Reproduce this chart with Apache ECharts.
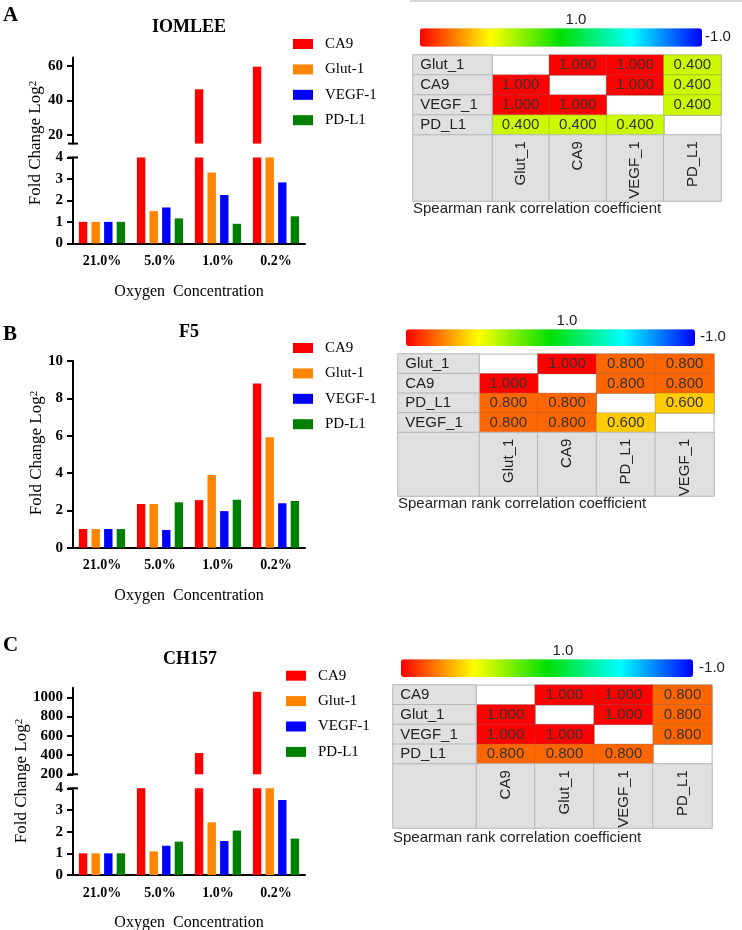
<!DOCTYPE html>
<html><head><meta charset="utf-8">
<script src="https://cdn.jsdelivr.net/npm/echarts@6/dist/echarts.min.js"></script>
<style>html,body{margin:0;padding:0;background:#fff}#c{width:742px;height:930px}</style>
</head><body><div id="c"></div>
<script>
// ---------- data ----------
const categories = ['21.0%', '5.0%', '1.0%', '0.2%'];
const genes = ['CA9', 'Glut-1', 'VEGF-1', 'PD-L1'];
const geneColors = ['#ff0000', '#ff8400', '#0000ff', '#008000'];

// Panel A : IOMLEE
const iomleeCA9   = [1, 10, 46.5, 59.6];
const iomleeGlut1 = [1, 1.5, 3.3, 6];
const iomleeVEGF1 = [1, 1.67, 2.25, 2.84];
const iomleePDL1  = [1, 1.16, 0.91, 1.26];
// Panel B : F5
const f5CA9   = [1, 2.34, 2.55, 8.8];
const f5Glut1 = [1, 2.34, 3.89, 5.91];
const f5VEGF1 = [1, 0.95, 1.96, 2.38];
const f5PDL1  = [1, 2.43, 2.57, 2.5];
// Panel C : CH157
const ch157CA9   = [1, 50, 421, 1058];
const ch157Glut1 = [1, 1.09, 2.43, 10];
const ch157VEGF1 = [1, 1.35, 1.57, 3.46];
const ch157PDL1  = [1, 1.54, 2.05, 1.68];

const ticksAUpper = [20, 40, 60];
const ticksCUpper = [200, 400, 600, 800, 1000];

// Spearman correlation tables
const heatAGenes = ['Glut_1', 'CA9', 'VEGF_1', 'PD_L1'];
const heatAValues = [[null, 1, 1, 0.4], [1, null, 1, 0.4], [1, 1, null, 0.4], [0.4, 0.4, 0.4, null]];
const heatBGenes = ['Glut_1', 'CA9', 'PD_L1', 'VEGF_1'];
const heatBValues = [[null, 1, 0.8, 0.8], [1, null, 0.8, 0.8], [0.8, 0.8, null, 0.6], [0.8, 0.8, 0.6, null]];
const heatCGenes = ['CA9', 'Glut_1', 'VEGF_1', 'PD_L1'];
const heatCValues = [[null, 1, 1, 0.8], [1, null, 1, 0.8], [1, 1, null, 0.8], [0.8, 0.8, 0.8, null]];

// ---------- build ----------
const serif = "'Liberation Serif','Times New Roman',serif";
const sans = "'Liberation Sans',Arial,sans-serif";
const grids = [], xAxes = [], yAxes = [], series = [], visualMaps = [], legends = [], titles = [], graphics = [];
const grayIdx = [];

function barPanel(p) {
  p.segments.forEach(seg => {
    const gi = grids.length;
    grids.push({left: p.left, top: seg.top, width: p.width, height: seg.height, outerBoundsMode: 'none'});
    const xi = xAxes.length;
    xAxes.push({
      type: 'category', gridIndex: gi, data: categories, show: !!seg.showX,
      axisLine: {lineStyle: {color: '#000', width: 2}},
      axisTick: {alignWithLabel: true, length: 6, lineStyle: {color: '#000', width: 2}},
      axisLabel: {color: '#000', fontFamily: serif, fontWeight: 'bold', fontSize: 14, margin: 11},
      name: seg.showX ? 'Oxygen  Concentration' : '', nameLocation: 'middle', nameGap: 40,
      nameTextStyle: {fontFamily: serif, fontSize: 16, color: '#000'}
    });
    const yi = yAxes.length;
    const ya = {
      type: 'value', gridIndex: gi, min: seg.min, max: seg.max,
      axisLine: {show: true, lineStyle: {color: '#000', width: 2}, symbol: seg.symbol || 'none', symbolSize: [10, 2]},
      axisTick: {show: true, length: 6, lineStyle: {color: '#000', width: 2}},
      axisLabel: {color: '#000', fontFamily: serif, fontWeight: 'bold', fontSize: 15, margin: 10, formatter: v => String(v)},
      splitLine: {show: false}
    };
    if (seg.interval) ya.interval = seg.interval;
    if (seg.ticks) { ya.axisTick.customValues = seg.ticks; ya.axisLabel.customValues = seg.ticks; }
    yAxes.push(ya);
    p.data.forEach((arr, i) => series.push({
      type: 'bar', name: genes[i], xAxisIndex: xi, yAxisIndex: yi, data: arr,
      barWidth: 8.4, barGap: '50%', clip: true, silent: true,
      itemStyle: {color: geneColors[i]}
    }));
  });
  legends.push({
    orient: 'vertical', left: p.legend[0], top: p.legend[1], itemWidth: 20, itemHeight: 10, itemGap: 10.4,
    padding: 0, selectedMode: false, icon: 'rect', data: genes,
    textStyle: {fontFamily: serif, fontSize: 15, color: '#000', lineHeight: 15, padding: [0, 0, 0, 7]}
  });
  titles.push({
    text: p.title, left: p.titlePos[0], top: p.titlePos[1], textAlign: 'center', textVerticalAlign: 'middle', padding: 0,
    textStyle: {fontFamily: serif, fontWeight: 'bold', fontSize: 18, color: '#000'}
  });
  graphics.push({type: 'text', x: 3, y: p.letterY, style: {text: p.letter, fontFamily: serif, fontWeight: 'bold', fontSize: 21, fill: '#000', verticalAlign: 'middle'}});
  graphics.push({
    type: 'text', x: p.yName[0], y: p.yName[1], rotation: Math.PI / 2,
    style: {
      text: 'Fold Change Log{s|2}', fontFamily: serif, fontSize: 17, fill: '#000', align: 'center', verticalAlign: 'middle',
      rich: {s: {fontFamily: serif, fontSize: 11, fill: '#000', verticalAlign: 'top', lineHeight: 11}}
    }
  });
}

function heatPanel(h) {
  // data cells
  const gD = grids.length;
  grids.push({left: h.R, top: h.T, width: h.right - h.R, height: h.D - h.T, show: true, borderColor: '#c4c4c4', borderWidth: 1, backgroundColor: '#fff', outerBoundsMode: 'none'});
  const xD = xAxes.length;
  xAxes.push({type: 'category', gridIndex: gD, data: h.genes, axisLine: {show: false}, axisTick: {show: false}, axisLabel: {show: false}, splitLine: {show: true, lineStyle: {color: '#d2d2d2'}}});
  const yD = yAxes.length;
  yAxes.push({type: 'category', gridIndex: gD, data: h.genes, inverse: true, axisLine: {show: false}, axisTick: {show: false}, axisLabel: {show: false}, splitLine: {show: true, lineStyle: {color: '#d2d2d2'}}});
  const cells = [];
  h.values.forEach((row, r) => row.forEach((v, c) => { if (v !== null) cells.push([c, r, v]); }));
  const sD = series.length;
  series.push({
    type: 'heatmap', xAxisIndex: xD, yAxisIndex: yD, data: cells, silent: true, emphasis: {disabled: true},
    itemStyle: {borderColor: 'rgba(110,110,110,0.3)', borderWidth: 1},
    label: {show: true, formatter: q => q.value[2].toFixed(3), fontFamily: sans, fontSize: 15, color: '#333'}
  });
  visualMaps.push({
    type: 'continuous', seriesIndex: sD, min: -1, max: 1, orient: 'horizontal', inverse: true,
    left: h.cb[0], top: h.cb[1], itemHeight: h.cb[2], itemWidth: h.cb[3], calculable: false, hoverLink: false, padding: 0,
    inRange: {color: ['#0000ff', '#00ffff', '#00e000', '#ffff00', '#ff0000']}
  });
  // row labels
  const gR = grids.length;
  grids.push({left: h.L, top: h.T, width: h.R - h.L, height: h.D - h.T, outerBoundsMode: 'none'});
  const xR = xAxes.length; xAxes.push({type: 'category', gridIndex: gR, data: [''], show: false});
  const yR = yAxes.length; yAxes.push({type: 'category', gridIndex: gR, data: h.genes, inverse: true, show: false});
  grayIdx.push(series.length);
  series.push({
    type: 'heatmap', xAxisIndex: xR, yAxisIndex: yR, data: h.genes.map((g, i) => [0, i, i]), silent: true, emphasis: {disabled: true},
    itemStyle: {borderColor: '#b6b6b6', borderWidth: 1},
    label: {show: true, position: 'insideLeft', distance: 8, formatter: q => h.genes[q.dataIndex], fontFamily: sans, fontSize: 15, color: '#222'}
  });
  // column headers
  const gH = grids.length;
  grids.push({left: h.R, top: h.D, width: h.right - h.R, height: h.H - h.D, outerBoundsMode: 'none'});
  const xH = xAxes.length; xAxes.push({type: 'category', gridIndex: gH, data: h.genes, show: false});
  const yH = yAxes.length; yAxes.push({type: 'category', gridIndex: gH, data: [''], show: false});
  grayIdx.push(series.length);
  series.push({
    type: 'heatmap', xAxisIndex: xH, yAxisIndex: yH, data: h.genes.map((g, i) => [i, 0, i]), silent: true, emphasis: {disabled: true},
    itemStyle: {borderColor: '#b6b6b6', borderWidth: 1},
    label: {show: true, position: 'insideTop', distance: 7, rotate: 90, align: 'right', verticalAlign: 'middle',
      formatter: q => h.genes[q.dataIndex], fontFamily: sans, fontSize: 15, color: '#222'}
  });
  // corner
  const gC = grids.length;
  grids.push({left: h.L, top: h.D, width: h.R - h.L, height: h.H - h.D, outerBoundsMode: 'none'});
  const xC = xAxes.length; xAxes.push({type: 'category', gridIndex: gC, data: [''], show: false});
  const yC = yAxes.length; yAxes.push({type: 'category', gridIndex: gC, data: [''], show: false});
  grayIdx.push(series.length);
  series.push({type: 'heatmap', xAxisIndex: xC, yAxisIndex: yC, data: [[0, 0, 0]], silent: true, emphasis: {disabled: true},
    itemStyle: {borderColor: '#b6b6b6', borderWidth: 1}});
  // colour bar labels & caption
  graphics.push({type: 'text', x: h.lab1[0], y: h.lab1[1], style: {text: '1.0', align: 'center', verticalAlign: 'middle', fontFamily: sans, fontSize: 15, fill: '#222'}});
  graphics.push({type: 'text', x: h.lab2[0], y: h.lab2[1], style: {text: '-1.0', align: 'center', verticalAlign: 'middle', fontFamily: sans, fontSize: 15, fill: '#222'}});
  graphics.push({type: 'text', x: h.L, y: h.capY, style: {text: 'Spearman rank correlation coefficient', verticalAlign: 'middle', fontFamily: sans, fontSize: 15, fill: '#222'}});
}

barPanel({
  left: 73, width: 232, title: 'IOMLEE', titlePos: [189, 27.5], letter: 'A', letterY: 16, yName: [36, 143], legend: [293, 36.5],
  data: [iomleeCA9, iomleeGlut1, iomleeVEGF1, iomleePDL1],
  segments: [
    {top: 57.4, height: 86.2, min: 15, max: 65, ticks: ticksAUpper, symbol: ['rect', 'none']},
    {top: 157.5, height: 85.8, min: 0, max: 4, interval: 1, symbol: ['none', 'rect'], showX: true}
  ]
});
barPanel({
  left: 73, width: 232, title: 'F5', titlePos: [189, 332], letter: 'B', letterY: 334.5, yName: [37, 453], legend: [293, 340.5],
  data: [f5CA9, f5Glut1, f5VEGF1, f5PDL1],
  segments: [
    {top: 361, height: 186.7, min: 0, max: 10, interval: 2, showX: true}
  ]
});
barPanel({
  left: 73, width: 232, title: 'CH157', titlePos: [190, 659], letter: 'C', letterY: 645.5, yName: [22, 781], legend: [286, 668.2],
  data: [ch157CA9, ch157Glut1, ch157VEGF1, ch157PDL1],
  segments: [
    {top: 687.7, height: 86.6, min: 200, max: 1100, ticks: ticksCUpper, symbol: ['rect', 'none']},
    {top: 788.3, height: 86.7, min: 0, max: 4, interval: 1, symbol: ['none', 'rect'], showX: true}
  ]
});

heatPanel({genes: heatAGenes, values: heatAValues, L: 413, R: 492, right: 721, T: 55, D: 135, H: 201,
  cb: [420, 28.3, 282, 18.4], lab1: [576, 20], lab2: [718, 37.3], capY: 209});
heatPanel({genes: heatBGenes, values: heatBValues, L: 398, R: 479, right: 714, T: 354, D: 432.5, H: 496,
  cb: [406, 329.3, 289, 16.7], lab1: [567, 321], lab2: [713, 337], capY: 503.5});
heatPanel({genes: heatCGenes, values: heatCValues, L: 393, R: 476, right: 712, T: 685, D: 764, H: 828,
  cb: [401, 659.3, 292, 17.7], lab1: [563, 651], lab2: [712, 668], capY: 837.5});

visualMaps.push({type: 'continuous', show: false, seriesIndex: grayIdx, min: 0, max: 3, inRange: {color: ['#e0e0e0', '#e0e0e0']}});
graphics.push({type: 'line', shape: {x1: 410, y1: 1, x2: 742, y2: 1}, style: {stroke: '#c8c8c8', lineWidth: 1.5}});

const chart = echarts.init(document.getElementById('c'), null, {renderer: 'canvas'});
chart.setOption({
  animation: false,
  backgroundColor: '#fff',
  textStyle: {fontFamily: serif},
  title: titles, legend: legends, grid: grids, xAxis: xAxes, yAxis: yAxes,
  visualMap: visualMaps, series: series, graphic: graphics
});
</script>
</body></html>
